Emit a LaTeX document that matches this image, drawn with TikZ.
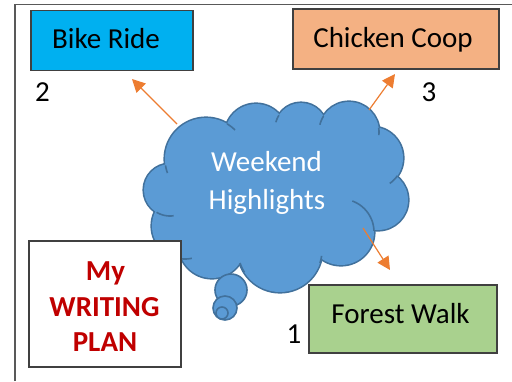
\documentclass[tikz,border=0pt]{standalone}
\usepackage{fontspec}
\setmainfont{Carlito}
\usetikzlibrary{arrows.meta}
\definecolor{cloudfill}{HTML}{5B9BD5}
\definecolor{cloudedge}{HTML}{41719C}
\definecolor{bikefill}{HTML}{00B0F0}
\definecolor{coopfill}{HTML}{F4B183}
\definecolor{forestfill}{HTML}{A9D18E}
\definecolor{planred}{HTML}{C00000}
\definecolor{arroworange}{HTML}{ED7D31}
\definecolor{boxline}{HTML}{404040}
\definecolor{frameline}{HTML}{595959}
\tikzset{
  boxshape/.style={draw=boxline, line width=1.3pt, rectangle, inner sep=0pt},
  txt/.style={font=\fontsize{29}{35}\selectfont, inner sep=0pt, anchor=base},
  plantxt/.style={txt, font=\fontsize{29}{35}\selectfont\bfseries, text=planred},
  cloudtxt/.style={txt, text=white},
  arr/.style={draw=arroworange, line width=1.2pt, -{Triangle[length=13pt,width=13pt]}},
  crease/.style={draw=cloudedge, line width=1.6pt},
  bubble/.style={fill=cloudfill, draw=cloudedge, line width=1.6pt},
}
\begin{document}
\begin{tikzpicture}[x=1pt,y=-1pt]
\useasboundingbox (0,0) rectangle (512,381);
\fill[white] (0,0) rectangle (512,381);
% outer frame
\draw[frameline, line width=1.4pt] (15,381) -- (15,4.7) -- (512,4.7);
% cloud: outline pass
\foreach \cx/\cy/\r in {206/159/41, 256/135/31, 301/129/26, 349/132/30, 372/158/31, 378/200/30, 341/232/33, 280/250/42, 212/245/33, 185/226/33, 170/190/26}
  \draw[cloudedge, line width=3.2pt] (\cx,\cy) circle[radius=\r pt];
% cloud: fill pass
\foreach \cx/\cy/\r in {206/159/41, 256/135/31, 301/129/26, 349/132/30, 372/158/31, 378/200/30, 341/232/33, 280/250/42, 212/245/33, 185/226/33, 170/190/26}
  \fill[cloudfill] (\cx,\cy) circle[radius=\r pt];
\fill[cloudfill] (206,159) -- (256,135) -- (301,129) -- (349,132) -- (372,158) -- (378,200) -- (341,232) -- (280,250) -- (212,245) -- (185,226) -- (170,190) -- cycle;
% creases
\draw[crease] plot[domain=45:59, samples=8, smooth] ({206+41*cos(\x)},{159-41*sin(\x)});
\draw[crease] plot[domain=189:200, samples=8, smooth] ({206+41*cos(\x)},{159-41*sin(\x)});
\draw[crease] plot[domain=148:165, samples=8, smooth] ({301+26*cos(\x)},{129-26*sin(\x)});
\draw[crease] plot[domain=148:166, samples=8, smooth] ({349+30*cos(\x)},{132-30*sin(\x)});
\draw[crease] plot[domain=-6:8, samples=8, smooth] ({349+30*cos(\x)},{132-30*sin(\x)});
\draw[crease] plot[domain=-55:-35, samples=8, smooth] ({372+31*cos(\x)},{158-31*sin(\x)});
\draw[crease] plot[domain=2:70, samples=20, smooth] ({341+33*cos(\x)},{232-33*sin(\x)});
\draw[crease] plot[domain=-18:-8, samples=8, smooth] ({280+42*cos(\x)},{250-42*sin(\x)});
\draw[crease] plot[domain=198:212, samples=8, smooth] ({280+42*cos(\x)},{250-42*sin(\x)});
\draw[crease] plot[domain=265:282, samples=8, smooth] ({185+33*cos(\x)},{226-33*sin(\x)});
\draw[crease] plot[domain=239:278, samples=12, smooth] ({170+26*cos(\x)},{190-26*sin(\x)});
% thought bubbles
\draw[bubble] (231,290) circle[radius=16pt];
\draw[bubble] (225,308) circle[radius=12pt];
\draw[bubble] (222,313) circle[radius=6pt];
% cloud text
\node[cloudtxt] (wk) at (266.5,171) {Weekend};
\node[cloudtxt] (hl) at (267,209.3) {Highlights};
% arrows
\coordinate (s1) at (177,124); \coordinate (t1) at (132,79);
\coordinate (s2) at (369,110); \coordinate (t2) at (395,74);
\coordinate (s3) at (363,228); \coordinate (t3) at (390,270);
\draw[arr] (s1) -- (t1);
\draw[arr] (s2) -- (t2);
\draw[arr] (s3) -- (t3);
% boxes
\node[boxshape, fill=bikefill, minimum width=162pt, minimum height=60pt] (bike) at (112,40.5) {};
\node[boxshape, fill=coopfill, minimum width=206pt, minimum height=60pt] (coop) at (396,39) {};
\node[boxshape, fill=forestfill, minimum width=188pt, minimum height=68pt] (forest) at (403,319) {};
\node[boxshape, fill=white, minimum width=152pt, minimum height=126pt] (plan) at (105,304) {};
% texts
\node[txt] (biket) at (106,48.3) {Bike Ride};
\node[txt] (coopt) at (393,47.3) {Chicken Coop};
\node[txt] (foresst) at (400.5,323.3) {Forest Walk};
\node[txt] (n2) at (42.5,101.7) {2};
\node[txt] (n3) at (429,101.7) {3};
\node[txt] (n1) at (294,343.3) {1};
\node[plantxt] (my) at (105.5,280) {My};
\node[plantxt] (wr) at (104.5,316.7) {WRITING};
\node[plantxt] (pl) at (105,351) {PLAN};
\end{tikzpicture}
\end{document}
